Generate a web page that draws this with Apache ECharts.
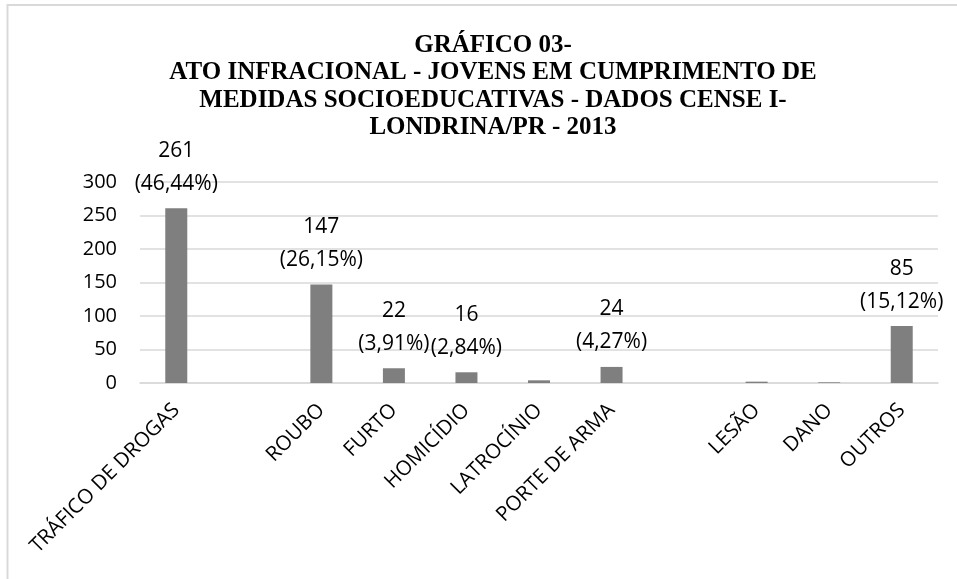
<!DOCTYPE html>
<html>
<head>
<meta charset="utf-8">
<script src="https://cdn.jsdelivr.net/npm/echarts@6/dist/echarts.min.js"></script>
<style>
  html, body { margin: 0; padding: 0; background: #fff; }
  #chart { width: 957px; height: 579px; }
</style>
</head>
<body>
<div id="chart"></div>
<script>
// categories (two empty slots as in the original sheet)
var categorias = ['TRÁFICO DE DROGAS', '', 'ROUBO', 'FURTO', 'HOMICÍDIO', 'LATROCÍNIO', 'PORTE DE ARMA', '', 'LESÃO', 'DANO', 'OUTROS'];
var valores = [261, null, 147, 22, 16, 4, 24, null, 2, 1, 85];
var percentuais = ['46,44%', null, '26,15%', '3,91%', '2,84%', null, '4,27%', null, null, null, '15,12%'];
var yTicks = [0, 50, 100, 150, 200, 250, 300];

var titulo = 'GRÁFICO 03-\nATO INFRACIONAL - JOVENS EM CUMPRIMENTO DE\nMEDIDAS SOCIOEDUCATIVAS - DADOS CENSE I-\nLONDRINA/PR - 2013';

var myChart = echarts.init(document.getElementById('chart'));
var option = {
    backgroundColor: '#fff',
    animation: false,
    graphic: [{
        type: 'rect',
        shape: { x: 7.5, y: 5, width: 1000, height: 700 },
        style: { fill: 'none', stroke: '#d9d9d9', lineWidth: 2 },
        silent: true
    }],
    title: {
        text: titulo,
        left: 488,
        top: 27,
        textAlign: 'center',
        textStyle: {
            fontFamily: 'Liberation Serif',
            fontWeight: 'bold',
            fontSize: 25,
            lineHeight: 27.3,
            color: '#000'
        }
    },
    grid: {
        left: 140,
        right: 19,
        top: 182,
        bottom: 196,
        containLabel: false
    },
    xAxis: {
        type: 'category',
        data: categorias,
        axisLine: { lineStyle: { color: '#d9d9d9', width: 1.5 } },
        axisTick: { show: false },
        axisLabel: {
            interval: 0,
            rotate: 45,
            margin: 24,
            fontFamily: 'Open Sans',
            fontSize: 20.5,
            color: '#000'
        }
    },
    yAxis: {
        type: 'value',
        min: yTicks[0],
        max: yTicks[yTicks.length - 1],
        interval: yTicks[1] - yTicks[0],
        axisLine: { show: false },
        axisTick: { show: false },
        splitLine: { lineStyle: { color: '#d9d9d9', width: 1.5 } },
        axisLabel: {
            margin: 23,
            fontFamily: 'Open Sans',
            fontSize: 20,
            color: '#000'
        }
    },
    series: [{
        type: 'bar',
        data: valores,
        barWidth: 22,
        itemStyle: { color: '#7f7f7f' },
        label: {
            show: true,
            position: 'top',
            distance: 8,
            fontFamily: 'Open Sans',
            fontSize: 21,
            lineHeight: 33,
            color: '#000',
            formatter: function (p) {
                var pct = percentuais[p.dataIndex];
                return pct ? p.value + '\n(' + pct + ')' : '';
            }
        }
    }]
};
myChart.setOption(option);
</script>
</body>
</html>
